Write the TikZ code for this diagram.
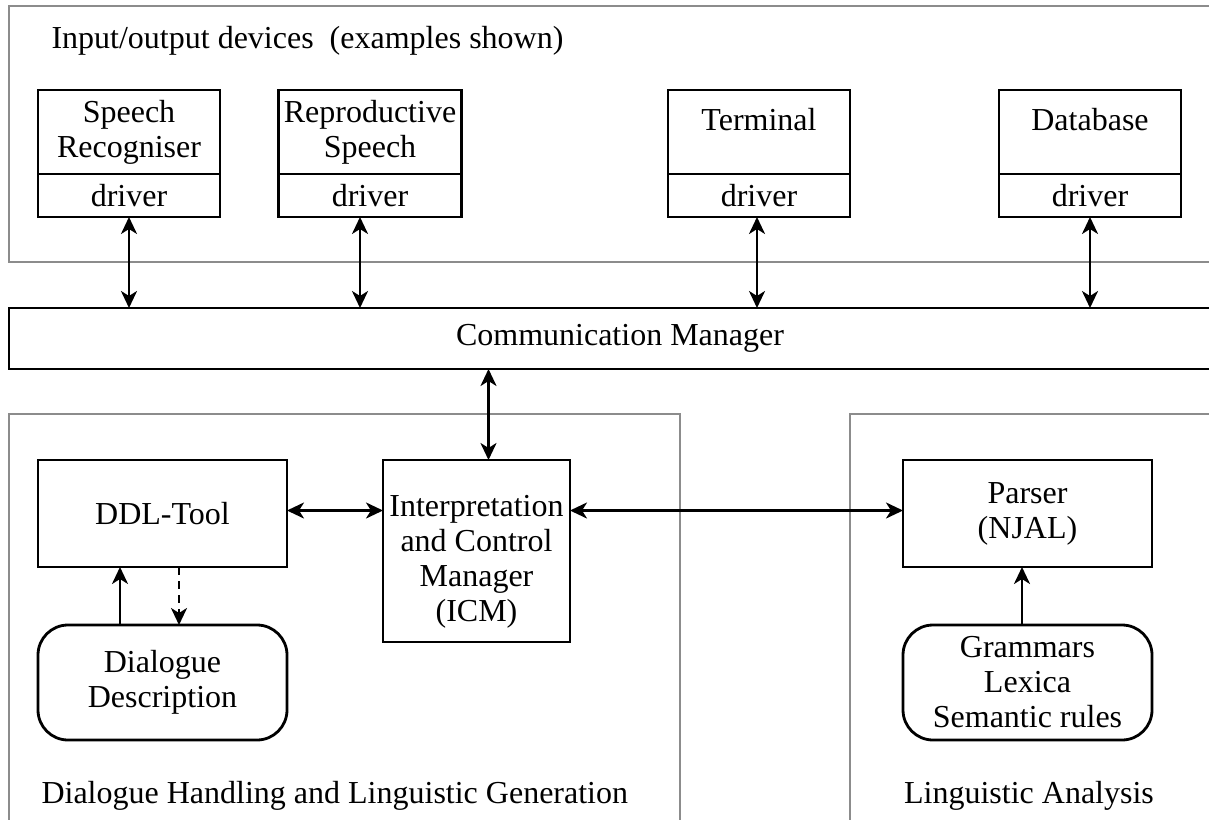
\documentclass[tikz,border=0pt]{standalone}
\usepackage{fontspec}
\setmainfont{Liberation Serif}
\usepackage{tikz}
\usetikzlibrary{arrows.meta,calc,positioning}

\begin{document}
\begin{tikzpicture}[x=1pt,y=-1pt,
  font=\fontsize{32pt}{35pt}\selectfont,
  panel/.style={draw=black!45,line width=2pt},
  box/.style={draw,line width=2.8pt,outer sep=0pt,inner sep=2pt,align=center},
  devbox/.style={box,minimum width=182,minimum height=84},
  drvbox/.style={box,minimum width=182,minimum height=43},
  roundbox/.style={box,rounded corners=30pt,minimum width=249,minimum height=115},
  dbl/.style={line width=2.6pt,{Stealth[length=17pt,width=16pt,inset=5pt]}-{Stealth[length=17pt,width=16pt,inset=5pt]}},
  sgl/.style={line width=2.6pt,-{Stealth[length=17pt,width=16pt,inset=5pt]}}]
  \useasboundingbox (0,0) rectangle (1209,819);
  \clip (0,0) rectangle (1209,819);
  \draw[panel] (9,6) rectangle (1240,262);
  \draw[panel] (9,414) rectangle (680,840);
  \draw[panel] (850,414) rectangle (1240,840);
  \node[anchor=base west] (iotitle) at (48,48) {Input/output devices\ \ (examples shown)};
  \node[devbox] (sr) at (129,132) {Speech\\Recogniser};
  \node[drvbox,below=0pt of sr] (srdrv) {driver};
  \node[devbox,minimum width=183] (rs) at (370,132) {Reproductive\\Speech};
  \node[drvbox,minimum width=183,below=0pt of rs] (rsdrv) {driver};
  \node[devbox,text depth=26pt] (term) at (759,132) {Terminal};
  \node[drvbox,below=0pt of term] (termdrv) {driver};
  \node[devbox,text depth=26pt] (db) at (1090,132) {Database};
  \node[drvbox,below=0pt of db] (dbdrv) {driver};
  \node[box,minimum width=1222,minimum height=61] (cm) at (620,338.5) {Communication Manager};
  \draw[dbl] (srdrv.south) -- (srdrv.south |- cm.north);
  \draw[dbl] ([xshift=-10pt]rsdrv.south) -- ([xshift=-10pt]rsdrv.south |- cm.north);
  \draw[dbl] ([xshift=-2pt]termdrv.south) -- ([xshift=-2pt]termdrv.south |- cm.north);
  \draw[dbl] (dbdrv.south) -- (dbdrv.south |- cm.north);
  \node[box,minimum width=249,minimum height=107] (ddl) at (162.5,513.5) {DDL-Tool};
  \node[box,minimum width=187,minimum height=182] (icm) at (476.5,551) {\rule{0pt}{42pt}Interpretation\\and Control\\Manager\\(ICM)};
  \node[box,minimum width=249,minimum height=107] (parser) at (1027.5,513.5) {Parser\\(NJAL)};
  \node[roundbox] (dd) at (162.5,682.5) {Dialogue\\Description};
  \node[roundbox] (gram) at (1027.5,682.5) {Grammars\\Lexica\\Semantic rules};
  \coordinate (mid) at ([yshift=3pt]ddl.east);
  \draw[dbl] ([xshift=12pt]icm.north) -- ([xshift=12pt]icm.north |- cm.south);
  \draw[dbl] (mid) -- (mid -| icm.west);
  \draw[dbl] (mid -| icm.east) -- (mid -| parser.west);
  \draw[sgl] ([xshift=-42.5pt]dd.north) -- ([xshift=-42.5pt]dd.north |- ddl.south);
  \draw[sgl,dashed,dash pattern=on 8pt off 6pt] ([xshift=16.5pt]ddl.south) -- ([xshift=16.5pt]ddl.south |- dd.north);
  \draw[sgl] ([xshift=-5.5pt]gram.north) -- ([xshift=-5.5pt]gram.north |- parser.south);
  \node[anchor=base west] (dhtitle) at (38,803) {Dialogue Handling and Linguistic Generation};
  \node[anchor=base] (latitle) at (1029,803) {Linguistic Analysis};
\end{tikzpicture}
\end{document}
